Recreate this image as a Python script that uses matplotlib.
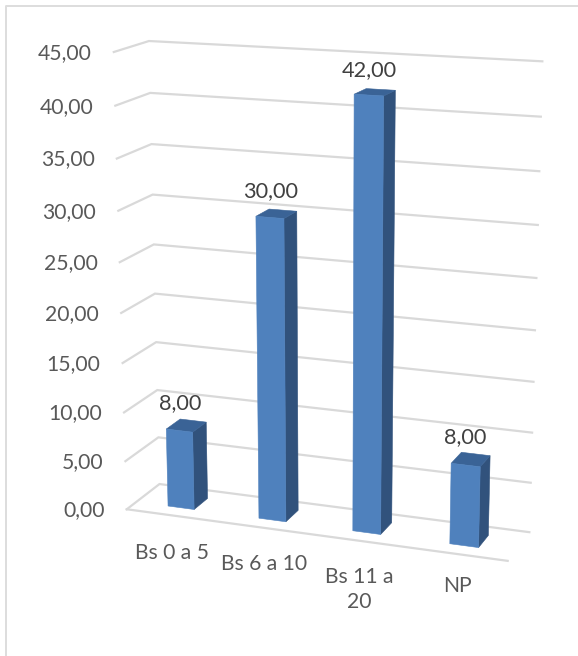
import numpy as np
import matplotlib
matplotlib.use("Agg")
import matplotlib.pyplot as plt
from matplotlib.patches import Polygon

# Chart data
categories = ["Bs 0 a 5", "Bs 6 a 10", "Bs 11 a\n20", "NP"]
values = [8.0, 30.0, 42.0, 8.0]
axis_ticks = [0, 5, 10, 15, 20, 25, 30, 35, 40, 45]

W, H = 578, 656
GRID = "#D9D9D9"
FRONT, SIDE, TOP = "#4F81BD", "#31527C", "#3A6396"
AXIS_TEXT, LABEL_TEXT = "#595959", "#404040"
FONT = "Lato"
BAR_X = 0.145
BAR_D = (0.29, 0.72)
# Distance in pixels from the floor's front edge down to each category label
CATEGORY_DROP = (38, 36, 49, 32)

# Camera calibration: box coordinates (category, value, depth) and where they land on the page
box_points = np.array([
    (0, 0, 0), (0, 0, 1), (4, 0, 1), (4, 0, 0), (0, 45, 1), (4, 45, 1), (0, 45, 0),
    (0, 5, 0), (0, 5, 1), (4, 30, 1), (0, 40, 0), (4, 40, 1), (0, 40, 1), (0, 30, 1),
], float)
page_points = np.array([
    (127, 509), (159, 484), (529, 532), (508, 561), (149, 41), (542, 61), (114, 52),
    (125, 461), (159, 438), (538, 225), (115, 106), (541, 117), (150, 93), (153, 194),
], float)


def fit_camera(src, dst):
    """Direct linear transform giving a 3x4 projective camera."""
    rows = []
    for (x, y, z), (u, v) in zip(src, dst):
        rows.append([x, y, z, 1, 0, 0, 0, 0, -u * x, -u * y, -u * z, -u])
        rows.append([0, 0, 0, 0, x, y, z, 1, -v * x, -v * y, -v * z, -v])
    return np.linalg.svd(np.array(rows))[2][-1].reshape(3, 4)


CAMERA = fit_camera(box_points, page_points)


def project(x, v, d):
    p = CAMERA @ np.array([x, v, d, 1.0])
    return p[0] / p[2], p[1] / p[2]


plt.rcParams["font.family"] = [FONT, "DejaVu Sans"]
fig = plt.figure(figsize=(W / 100, H / 100), dpi=100)
ax = fig.add_axes([0, 0, 1, 1])
ax.set_xlim(0, W)
ax.set_ylim(H, 0)
ax.axis("off")

# Chart frame, whose right and bottom edges run off the page
ax.plot([5.5, 5.5, W + 5], [H + 5, 5.5, 5.5], color="#DDDDDD", lw=1.4, zorder=1)

# Gridlines on the left wall and back wall
for t in axis_ticks:
    pts = [project(0, t, 0), project(0, t, 1), project(4, t, 1)]
    ax.plot(*zip(*pts), color=GRID, lw=1.6, solid_joinstyle="miter", zorder=2)
    fx, fy = pts[0]
    ax.text(fx - 22, fy + 1, f"{t:.2f}".replace(".", ","), ha="right", va="center",
            fontsize=15.2, color=AXIS_TEXT, zorder=5)
ax.plot(*zip(project(0, 0, 0), project(4, 0, 0)), color=GRID, lw=1.6, zorder=2)


def face(points, color):
    ax.add_patch(Polygon([project(*p) for p in points], closed=True, facecolor=color,
                         edgecolor=color, lw=0.4, zorder=4))


# Bars
d0, d1 = BAR_D
for i, (name, val) in enumerate(zip(categories, values)):
    x0, x1 = i + 0.5 - BAR_X, i + 0.5 + BAR_X
    face([(x1, 0, d0), (x1, 0, d1), (x1, val, d1), (x1, val, d0)], SIDE)
    face([(x0, val, d0), (x1, val, d0), (x1, val, d1), (x0, val, d1)], TOP)
    face([(x0, 0, d0), (x1, 0, d0), (x1, val, d0), (x0, val, d0)], FRONT)

    tx, ty = project(i + 0.5, val, (d0 + d1) / 2)
    ax.text(tx - 6, ty - 22.5, f"{val:.2f}".replace(".", ","), ha="center", va="center",
            fontsize=15.7, color=LABEL_TEXT, zorder=6)

    cx, cy = project(i + 0.5, 0, 0)
    ax.text(cx, cy + CATEGORY_DROP[i], name, ha="center", va="center", fontsize=15.2,
            color=AXIS_TEXT, linespacing=1.3, zorder=6)

fig.savefig("out.png", dpi=100)
